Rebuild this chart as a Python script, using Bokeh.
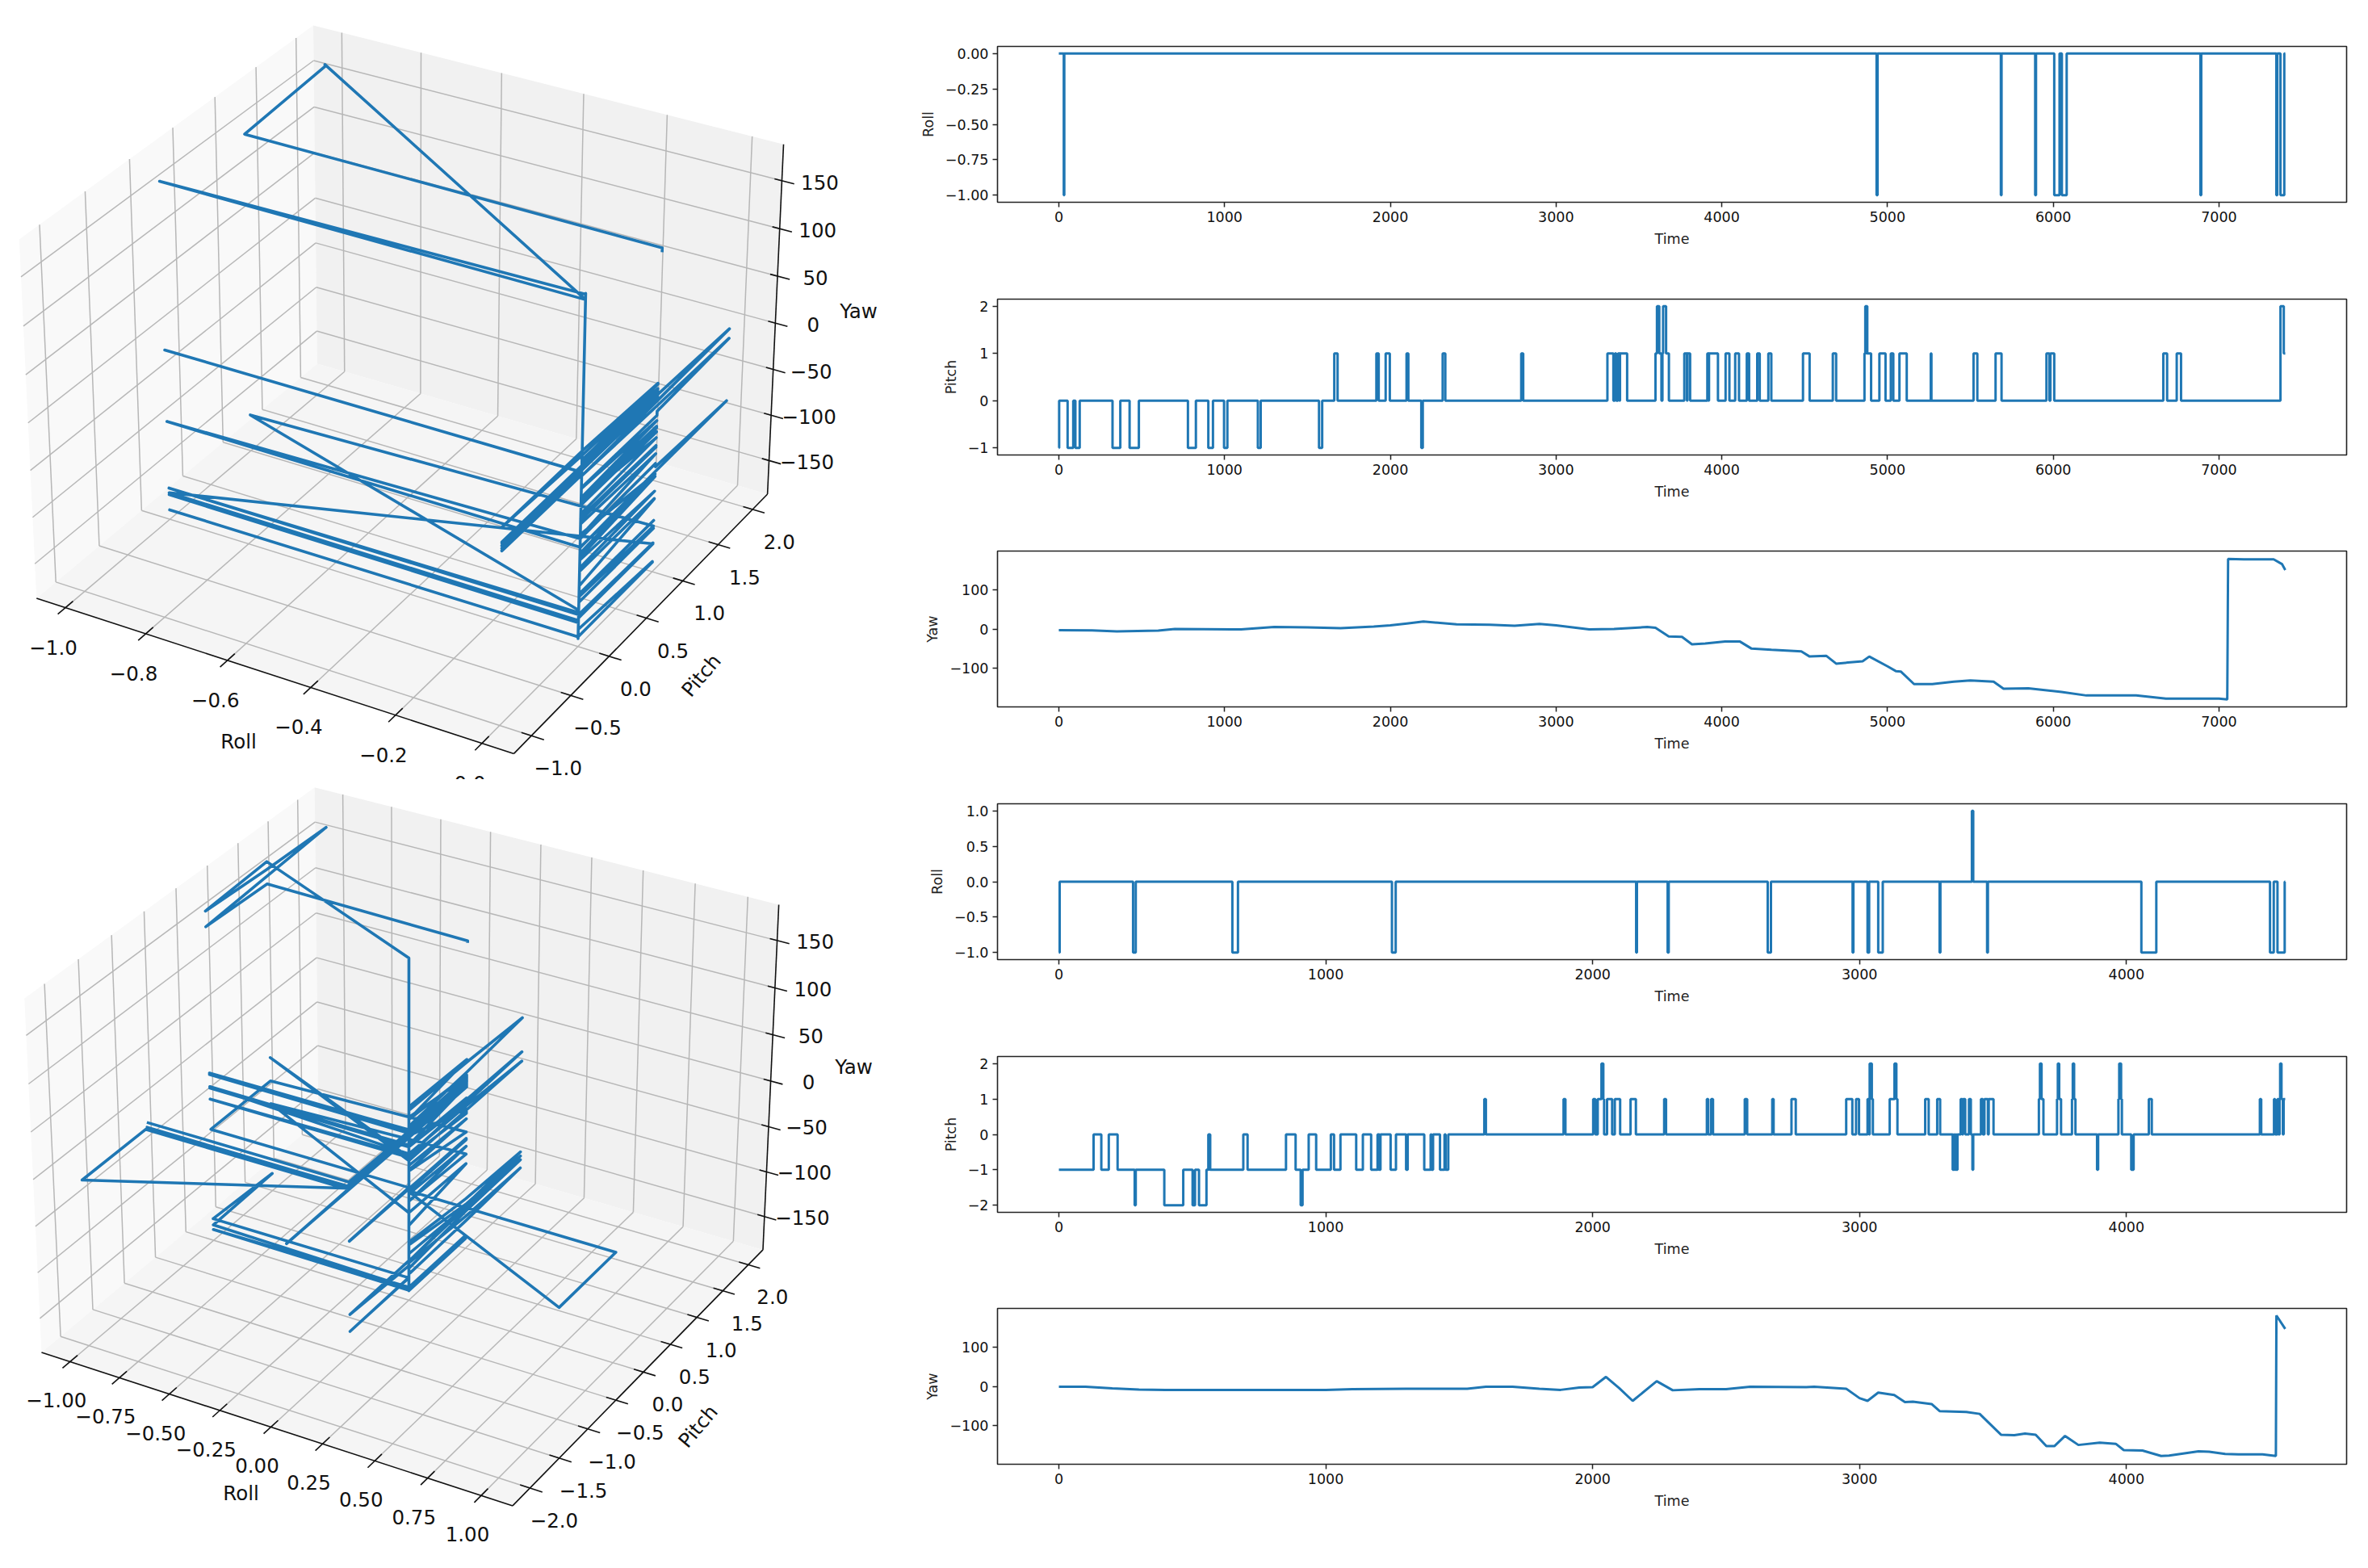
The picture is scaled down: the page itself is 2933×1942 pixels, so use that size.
import numpy as np
from bokeh.plotting import figure
from bokeh.layouts import row, column
from bokeh.models import Range1d, FixedTicker
from bokeh.core.properties import value
from bokeh.embed import file_html
from bokeh.resources import INLINE

# ---- data: (time, value) pairs; roll and pitch hold until the next time ----
roll_a = [(0,0),(30,-1),(33,0),(4934,-1),(4940,0),(5684,-1),(5688,0),(5891,-1),(5896,0),(6006,-1),(6038,0),
          (6052,-1),(6081,0),(6888,-1),(6893,0),(7346,-1),(7352,0),(7371,-1),(7394,0),(7400,0)]
pitch_a = [(0,-1),(2,0),(53,-1),(87,0),(100,-1),(126,0),(324,-1),(371,0),(427,-1),(483,0),(779,-1),(827,0),
           (902,-1),(930,0),(997,-1),(1017,0),(1201,-1),(1218,0),(1570,-1),(1589,0),(1662,1),(1682,0),(1916,1),
           (1930,0),(1972,1),(1997,0),(2098,1),(2109,0),(2187,-1),(2196,0),(2316,1),(2332,0),(2790,1),(2802,0),
           (3310,1),(3346,0),(3355,1),(3363,0),(3374,1),(3383,0),(3386,1),(3429,0),(3600,1),(3609,2),(3623,1),
           (3636,0),(3642,1),(3646,2),(3664,1),(3681,0),(3774,1),(3790,0),(3793,1),(3809,0),(3913,1),(3920,0),
           (3923,1),(3977,0),(4023,1),(4046,0),(4081,1),(4104,0),(4151,1),(4165,0),(4214,1),(4229,0),(4281,1),
           (4299,0),(4490,1),(4530,0),(4670,1),(4690,0),(4861,1),(4866,2),(4878,1),(4901,0),(4951,1),(4988,0),
           (5020,1),(5035,0),(5072,1),(5116,0),(5261,1),(5265,0),(5519,1),(5542,0),(5652,1),(5688,0),(5959,1),
           (5977,0),(5983,1),(6006,0),(6664,1),(6687,0),(6745,1),(6771,0),(7371,2),(7391,1),(7400,1)]
yaw_a = [(0,-3),(200,-3.5),(350,-6),(600,-4),(700,0),(1100,-1),(1300,5),(1500,4),(1700,2),(1900,6),(2000,9),
         (2100,14),(2200,19),(2400,12),(2600,11),(2750,8),(2900,13),(3000,9),(3200,-1),(3350,0),(3550,5),(3600,3),
         (3680,-19),(3760,-20),(3820,-39),(3900,-37),(4020,-32),(4110,-32),(4180,-50),(4300,-53),(4480,-57),
         (4530,-70),(4630,-68),(4690,-88),(4850,-82),(4890,-70),(5000,-95),(5050,-107),(5080,-108),(5160,-140),
         (5270,-140),(5400,-134),(5500,-131),(5640,-134),(5700,-152),(5850,-151),(6050,-160),(6200,-169),
         (6500,-169),(6680,-177),(7000,-177),(7050,-179),(7055,178),(7150,177),(7330,177),(7380,165),(7400,150)]
roll_b = [(0,-1),(3,0),(278,-1),(288,0),(650,-1),(671,0),(1248,-1),(1262,0),(2163,-1),(2166,0),(2281,-1),(2285,0),
          (2656,-1),(2668,0),(2974,-1),(2977,0),(3030,-1),(3036,0),(3070,-1),(3087,0),(3300,-1),(3303,0),(3421,1),
          (3426,0),(3478,-1),(3481,0),(4056,-1),(4112,0),(4538,-1),(4552,0),(4566,-1),(4593,0),(4595,0)]
pitch_b = [(0,-1),(130,0),(159,-1),(187,0),(220,-1),(284,-2),(288,-1),(395,-2),(466,-1),(501,-2),(510,-1),(525,-2),
           (553,-1),(560,0),(567,-1),(691,0),(707,-1),(851,0),(887,-1),(906,-2),(913,-1),(936,0),(964,-1),(1019,0),
           (1031,-1),(1055,0),(1114,-1),(1139,0),(1170,-1),(1194,0),(1201,-1),(1205,0),(1243,-1),(1263,0),(1301,-1),
           (1307,0),(1369,-1),(1393,0),(1396,-1),(1402,0),(1428,-1),(1445,0),(1449,-1),(1459,0),(1594,1),(1600,0),
           (1891,1),(1898,0),(2002,1),(2010,0),(2019,1),(2033,2),(2040,1),(2043,0),(2054,1),(2073,0),(2083,1),
           (2103,0),(2142,1),(2162,0),(2268,1),(2275,0),(2428,1),(2433,0),(2444,1),(2451,0),(2570,1),(2579,0),
           (2673,1),(2678,0),(2745,1),(2761,0),(2950,1),(2973,0),(2987,1),(2998,0),(3030,1),(3036,0),(3038,2),
           (3046,1),(3050,0),(3113,1),(3131,2),(3138,1),(3142,0),(3246,1),(3259,0),(3291,1),(3302,0),(3349,-1),
           (3353,0),(3356,-1),(3360,0),(3363,-1),(3367,0),(3379,1),(3385,0),(3388,1),(3396,0),(3410,1),(3417,0),
           (3423,-1),(3426,0),(3455,1),(3462,0),(3468,1),(3481,0),(3484,1),(3502,0),(3672,1),(3676,2),(3682,1),
           (3689,0),(3740,1),(3743,2),(3748,1),(3755,0),(3796,1),(3799,2),(3804,1),(3809,0),(3890,-1),(3894,0),
           (3970,1),(3973,2),(3980,1),(3983,0),(4018,-1),(4027,0),(4084,1),(4095,0),(4500,1),(4505,0),(4553,1),
           (4557,0),(4566,1),(4570,0),(4574,1),(4576,2),(4581,1),(4586,0),(4589,1),(4595,1)]
yaw_b = [(0,-1),(100,-1),(200,-5),(300,-8),(400,-9),(1000,-9),(1100,-7),(1300,-6),(1530,-6),(1600,-1),(1700,-1),
         (1800,-6),(1880,-9),(1950,-3),(2000,-2),(2050,24),(2100,-5),(2150,-37),(2240,13),(2300,-10),(2400,-7),
         (2500,-7),(2590,-1),(2800,-2),(2830,-1),(2950,-6),(3000,-30),(3030,-37),(3070,-16),(3130,-22),(3170,-40),
         (3200,-39),(3270,-45),(3300,-63),(3400,-65),(3450,-70),(3530,-123),(3580,-124),(3620,-120),(3660,-123),
         (3700,-152),(3730,-152),(3770,-126),(3820,-149),(3900,-143),(3960,-146),(3990,-162),(4060,-163),
         (4130,-177),(4160,-176),(4270,-165),(4310,-166),(4370,-172),(4420,-173),(4510,-173),(4560,-177),
         (4562,180),(4595,146)]

time_ticks_a = [0,1000,2000,3000,4000,5000,6000,7000]
time_ticks_b = [0,1000,2000,3000,4000]
roll_ticks_a = [-1,-0.75,-0.5,-0.25,0]
pitch_ticks_a = [-1,0,1,2]
yaw_ticks = [-100,0,100]
roll_ticks_b = [-1,-0.5,0,0.5,1]
pitch_ticks_b = [-2,-1,0,1,2]
x3d_ticks_a = [-1.0,-0.8,-0.6,-0.4,-0.2,0.0]
y3d_ticks_a = [-1.0,-0.5,0.0,0.5,1.0,1.5,2.0]
x3d_ticks_b = [-1.0,-0.75,-0.5,-0.25,0.0,0.25,0.5,0.75,1.0]
y3d_ticks_b = [-2.0,-1.5,-1.0,-0.5,0.0,0.5,1.0,1.5,2.0]
z3d_ticks = [-150,-100,-50,0,50,100,150]

BLUE = "#1f77b4"
FONT = "DejaVu Sans"
LEFT_W = 1112

def minus(s):
    return s.replace("-", "\u2212")

# ---- time series panels ----
def series_panel(pairs, label, yticks, yfmt, xticks, xr, yr, top, frame_top, h, stepped=True):
    t = [a for a, b in pairs]
    v = [b for a, b in pairs]
    frame_h = 193
    p = figure(width=1813, height=h, output_backend="svg", toolbar_location=None,
               x_range=Range1d(*xr), y_range=Range1d(*yr),
               min_border_left=1235 - LEFT_W, min_border_right=19, min_border_top=frame_top - top,
               min_border_bottom=h - (frame_top - top) - frame_h, background_fill_color="white")
    if stepped:
        p.step(t, v, mode="after", line_color=BLUE, line_width=3.0)
    else:
        p.line(t, v, line_color=BLUE, line_width=3.0)
    p.grid.visible = False
    p.outline_line_color = "#222222"
    p.outline_line_width = 1.6
    for ax, ticks, fmt in ((p.xaxis[0], xticks, "{:d}"), (p.yaxis[0], yticks, yfmt)):
        ax.ticker = FixedTicker(ticks=list(ticks))
        ax.major_label_overrides = {k: minus(fmt.format(k)) for k in ticks}
        ax.major_tick_out = 6
        ax.major_tick_in = 0
        ax.minor_tick_out = 0
        ax.minor_tick_in = 0
        ax.major_tick_line_width = 1.5
        ax.major_tick_line_color = "#222222"
        ax.axis_line_color = None
        ax.major_label_text_font = FONT
        ax.major_label_text_font_size = "17.5px"
        ax.major_label_text_color = "#111111"
        ax.major_label_standoff = 5
        ax.axis_label_text_font = FONT
        ax.axis_label_text_font_size = "17.5px"
        ax.axis_label_text_font_style = "normal"
        ax.axis_label_text_color = "#222222"
        ax.axis_label_standoff = 8
    p.xaxis[0].axis_label = "Time"
    p.yaxis[0].axis_label = label
    return p

xr_a = (-370, 7770)
xr_b = (-230, 4825)
panels = column(
    series_panel(roll_a, "Roll", roll_ticks_a, "{:.2f}", time_ticks_a, xr_a, (-1.05, 0.05), 0, 57, 350),
    series_panel(pitch_a, "Pitch", pitch_ticks_a, "{:d}", time_ticks_a, xr_a, (-1.15, 2.15), 350, 370, 312),
    series_panel(yaw_a, "Yaw", yaw_ticks, "{:d}", time_ticks_a, xr_a, (-198, 198), 662, 682, 313, stepped=False),
    series_panel(roll_b, "Roll", roll_ticks_b, "{:.1f}", time_ticks_b, xr_b, (-1.1, 1.1), 975, 995, 313),
    series_panel(pitch_b, "Pitch", pitch_ticks_b, "{:d}", time_ticks_b, xr_b, (-2.2, 2.2), 1288, 1308, 312),
    series_panel(yaw_b, "Yaw", yaw_ticks, "{:d}", time_ticks_b, xr_b, (-198, 198), 1600, 1620, 320, stepped=False),
)

# ---- 3D panels: matplotlib-style perspective projection onto a page-pixel figure ----
def make_camera(xl, yl, zl):
    aspect = np.array([4.0, 4.0, 3.0])
    aspect *= 1.8294640721620434 * 25 / 24 / np.linalg.norm(aspect)
    R = aspect / 2
    el, az = np.radians(30), np.radians(-60)
    d = np.array([np.cos(el) * np.cos(az), np.cos(el) * np.sin(az), np.sin(el)])
    eye = R + 10 * d
    w = d
    u = np.cross([0, 0, 1.0], w)
    u /= np.linalg.norm(u)
    v = np.cross(w, u)

    def cam(x, y, z):
        q = np.stack([(np.asarray(x, float) - xl[0]) / (xl[1] - xl[0]) * aspect[0],
                      (np.asarray(y, float) - yl[0]) / (yl[1] - yl[0]) * aspect[1],
                      (np.asarray(z, float) - zl[0]) / (zl[1] - zl[0]) * aspect[2]], axis=-1) - eye
        depth = -(q @ w)
        return (q @ u) / depth, (q @ v) / depth
    return cam


def panel3d(roll, pitch, yaw, xl, yl, zl, xticks, yticks, zticks, xfmt, anchors, y_span, xoff, yoff, zoff, labels):
    cam = make_camera(xl, yl, zl)
    cs = [(xl[i], yl[j], zl[k]) for (i, j, k), _ in anchors]
    cx, cy = cam(*np.array(cs).T)
    ax_ = np.polyfit(cx, [a[1][0] for a in anchors], 1)
    ay_ = np.polyfit(cy, [a[1][1] for a in anchors], 1)

    def P(x, y, z):
        a, b = cam(x, y, z)
        return np.polyval(ax_, a), np.polyval(ay_, b)

    p = figure(width=LEFT_W, height=int(y_span[1] - y_span[0]), output_backend="svg", toolbar_location=None,
               x_range=Range1d(0, LEFT_W), y_range=Range1d(y_span[1], y_span[0]),
               min_border=0, background_fill_color="white", outline_line_color=None)
    p.axis.visible = False
    p.grid.visible = False
    x0, x1 = xl
    y0, y1 = yl
    z0, z1 = zl

    def face(pts, color):
        a = np.array(pts).T
        sx, sy = P(a[0], a[1], a[2])
        p.patch(list(sx), list(sy), fill_color=color, line_color=None)

    face([(x0, y0, z0), (x0, y1, z0), (x0, y1, z1), (x0, y0, z1)], "#f9f9f9")
    face([(x0, y1, z0), (x1, y1, z0), (x1, y1, z1), (x0, y1, z1)], "#f1f1f1")
    face([(x0, y0, z0), (x1, y0, z0), (x1, y1, z0), (x0, y1, z0)], "#f5f5f5")

    xs, ys = [], []
    def seg(a, b):
        sx, sy = P(*np.array([a, b]).T)
        xs.append(list(sx)); ys.append(list(sy))
    for t in xticks:
        seg((t, y0, z0), (t, y1, z0)); seg((t, y1, z0), (t, y1, z1))
    for t in yticks:
        seg((x0, t, z0), (x1, t, z0)); seg((x0, t, z0), (x0, t, z1))
    for t in zticks:
        seg((x0, y0, t), (x0, y1, t)); seg((x0, y1, t), (x1, y1, t))
    p.multi_line(xs, ys, line_color="#b7b7b7", line_width=1.5)

    xs, ys = [], []
    dx, dy = x1 - x0, y1 - y0
    seg((x0, y0, z0), (x1, y0, z0)); seg((x1, y0, z0), (x1, y1, z0)); seg((x1, y1, z0), (x1, y1, z1))
    for t in xticks:
        seg((t, y0 - 0.025 * dy, z0), (t, y0 + 0.025 * dy, z0))
    for t in yticks:
        seg((x1 - 0.02 * dx, t, z0), (x1 + 0.025 * dx, t, z0))
    for t in zticks:
        seg((x1 - 0.015 * dx, y1, t), (x1 + 0.025 * dx, y1, t))
    p.multi_line(xs, ys, line_color="#111111", line_width=1.6)

    # the flight line: all three series sampled at every recorded change
    rt = np.array([a for a, _ in roll], float); rv = np.array([b for _, b in roll], float)
    pt = np.array([a for a, _ in pitch], float); pv = np.array([b for _, b in pitch], float)
    yt = np.array([a for a, _ in yaw], float); yv = np.array([b for _, b in yaw], float)
    T = np.unique(np.concatenate([rt, pt, yt]))
    R3 = rv[np.searchsorted(rt, T, side="right") - 1]
    P3 = pv[np.searchsorted(pt, T, side="right") - 1]
    Y3 = np.interp(T, yt, yv)
    lx, ly = P(R3, P3, Y3)
    p.line(list(lx), list(ly), line_color=BLUE, line_width=3.6, line_join="round")

    def txt(xx, yy, ss, size="24.5px", angle=0.0):
        p.text(xx, yy, text=ss, text_align="center", text_baseline="middle", text_color="#111111",
               text_font=value(FONT), text_font_size=value(size), angle=angle)

    sx, sy = P(np.array(xticks), np.full(len(xticks), y0), np.full(len(xticks), z0))
    txt(list(sx + xoff[0]), list(sy + xoff[1]), [minus(xfmt.format(t)) for t in xticks])
    sx, sy = P(np.full(len(yticks), x1), np.array(yticks), np.full(len(yticks), z0))
    txt(list(sx + yoff[0]), list(sy + yoff[1]), [minus("{:.1f}".format(t)) for t in yticks])
    sx, sy = P(np.full(len(zticks), x1), np.full(len(zticks), y1), np.array(zticks))
    txt(list(sx + zoff[0]), list(sy + zoff[1]), [minus(str(t)) for t in zticks])

    for name, (lxx, lyy, ang) in labels.items():
        txt([lxx], [lyy], [name], angle=ang)
    return p


zl = (-187.5, 187.5)
anchors_a = [((0, 0, 0), (49, 737)), ((1, 0, 0), (638, 931)), ((1, 1, 0), (953, 610)), ((1, 1, 1), (972, 176)),
             ((0, 1, 1), (389, 28)), ((0, 0, 1), (28, 294)), ((0, 1, 0), (375, 464))]
anchors_b = [((0, 0, 0), (55, 1668)), ((1, 0, 0), (638, 1860)), ((1, 1, 0), (946, 1544)), ((1, 1, 1), (967, 1116)),
             ((0, 1, 1), (391, 969)), ((0, 0, 1), (35, 1229)), ((0, 1, 0), (375, 1419))]

left_a = panel3d(roll_a, pitch_a, yaw_a, (-1.0729, 0.0729), (-1.2188, 2.2188), zl,
                 x3d_ticks_a, y3d_ticks_a, z3d_ticks, "{:.1f}", anchors_a, (0, 965),
                 (-15, 49), (33, 40), (47, 2),
                 {"Roll": (295, 918, 0.0), "Pitch": (868, 836, 0.87), "Yaw": (1063, 385, 0.0)})
left_b = panel3d(roll_b, pitch_b, yaw_b, (-1.1458, 1.1458), (-2.2917, 2.2917), zl,
                 x3d_ticks_b, y3d_ticks_b, z3d_ticks, "{:.2f}", anchors_b, (965, 1934),
                 (-17, 48), (30, 40), (47, 1),
                 {"Roll": (298, 1849, 0.0), "Pitch": (864, 1766, 0.87), "Yaw": (1057, 1321, 0.0)})

root = row(column(left_a, left_b), panels)
open("out.html", "w").write(file_html(root, INLINE))
